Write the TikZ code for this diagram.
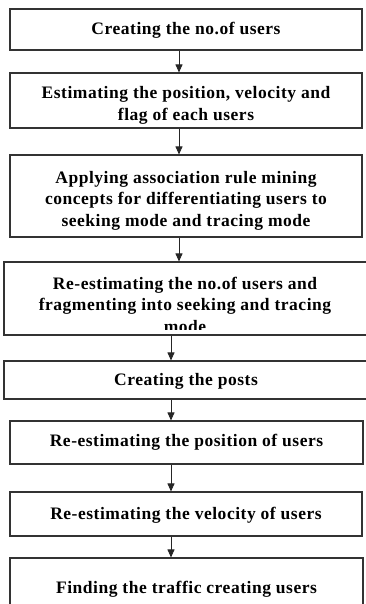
\documentclass[tikz,border=0pt]{standalone}
\usepackage{fontspec}
\setmainfont{Liberation Serif}[LetterSpace=3]
\usetikzlibrary{arrows.meta}
\begin{document}
\begin{tikzpicture}[x=1pt,y=1pt,
  box/.style={draw=black!80,line width=1.1pt,rectangle,inner sep=0pt},
  txt/.style={align=center,inner sep=0pt,font=\bfseries\fontsize{17.5}{21.5}\selectfont},
  arr/.style={draw=black!85,line width=0.9pt,-{Triangle[width=7pt,length=8pt]}}]
\useasboundingbox (0,0) rectangle (366,-604);
\coordinate (xa) at (179,0);
\coordinate (xb) at (171,0);
% texts
\node[txt] (t1) at (186,-30) {Creating the no.of users};
\node[txt] (t2) at (186,-105.5) {Estimating the position, velocity and\\flag of each users};
\node[txt] (t3) at (186,-200.5) {Applying association rule mining\\concepts for differentiating users to\\seeking mode and tracing mode};
\begin{scope}
\clip (0,-262) rectangle (366,-329.5);
\node[txt] (t4) at (185,-304.5) {Re-estimating the no.of users and\\fragmenting into seeking and tracing\\mode};
\end{scope}
\node[txt] (t5) at (186,-381) {Creating the posts};
\node[txt] (t6) at (186.5,-442) {Re-estimating the position of users};
\node[txt] (t7) at (186,-515) {Re-estimating the velocity of users};
\node[txt] (t8) at (186.5,-589) {Finding the traffic creating users};
% boxes
\node[box,minimum width=352,minimum height=41] (b1) at (186,-29.5) {};
\node[box,minimum width=352,minimum height=55] (b2) at (186,-100.5) {};
\node[box,minimum width=352,minimum height=82] (b3) at (186,-196) {};
\node[box,minimum width=364,minimum height=73] (b4) at (186,-298.5) {};
\node[box,minimum width=364,minimum height=38] (b5) at (186,-380) {};
\node[box,minimum width=353,minimum height=43] (b6) at (186.5,-442.5) {};
\node[box,minimum width=352,minimum height=44] (b7) at (186,-514) {};
\node[box,minimum width=353,minimum height=52] (b8) at (186.5,-584) {};
% connectors
\draw[arr] (xa |- b1.south) -- (xa |- b2.north);
\draw[arr] (xa |- b2.south) -- (xa |- b3.north);
\draw[arr] (xa |- b3.south) -- (xa |- b4.north);
\draw[arr] (xb |- b4.south) -- (xb |- b5.north);
\draw[arr] (xb |- b5.south) -- (xb |- b6.north);
\draw[arr] (xb |- b6.south) -- (xb |- b7.north);
\draw[arr] (xb |- b7.south) -- (xb |- b8.north);
\end{tikzpicture}
\end{document}
